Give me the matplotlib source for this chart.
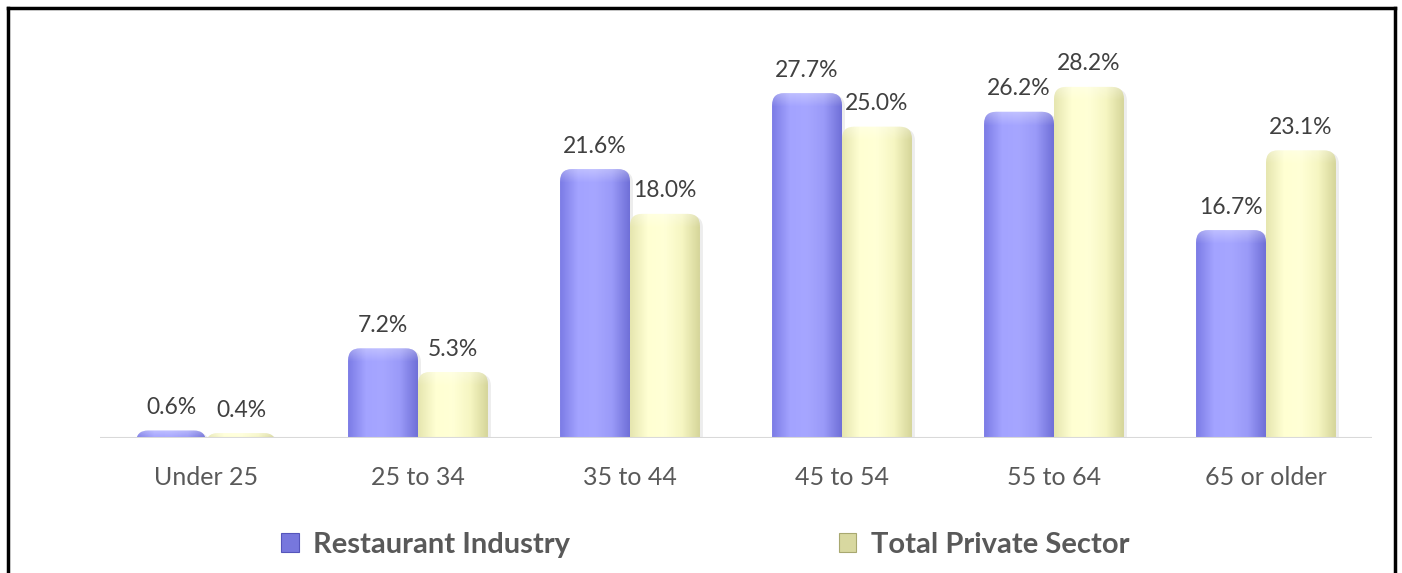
import matplotlib.pyplot as plt
import numpy as np
from matplotlib.patches import FancyBboxPatch, Patch
from matplotlib.lines import Line2D
from matplotlib.colors import LinearSegmentedColormap

# data
groups = ['Under 25', '25 to 34', '35 to 44', '45 to 54', '55 to 64', '65 or older']
restaurant = [0.6, 7.2, 21.6, 27.7, 26.2, 16.7]
private = [0.4, 5.3, 18.0, 25.0, 28.2, 23.1]
series_names = ['Restaurant Industry', 'Total Private Sector']

W, H = 1402, 573
fig = plt.figure(figsize=(W / 100, H / 100), dpi=100)
plt.rcParams['font.family'] = ['Lato', 'DejaVu Sans']

# axes placed in pixel terms
x0, x1 = 100, 1372
ybase, ytop = 438, 438 - 30 * 12.45
ax = fig.add_axes([x0 / W, (H - ybase) / H, (x1 - x0) / W, (ybase - ytop) / H])
ax.set_xlim(-0.5, len(groups) - 0.5)
ax.set_ylim(0, 30)
for s in ax.spines.values():
    s.set_visible(False)
ax.set_yticks([])
ax.set_xticks(range(len(groups)))
ax.set_xticklabels(groups, fontsize=18, color='#595959')
ax.tick_params(axis='x', length=0, pad=20)
ax.axhline(0, color='#d9d9d9', lw=1.5, zorder=5)

x = np.arange(len(groups))
bw = 0.33
bars1 = ax.bar(x - bw / 2, restaurant, bw, color='#9999ff', zorder=1)
bars2 = ax.bar(x + bw / 2, private, bw, color='#ffffcc', zorder=1)

# pixel -> data conversion to keep corners round
px_x = 6 / (x1 - x0)        # data per pixel horizontally
px_y = 30 / (ybase - ytop)  # data per pixel vertically
aspect = px_y / px_x

cmaps = {
    'r': LinearSegmentedColormap.from_list('r', ['#7c7ce6', '#a3a3ff', '#a6a6ff', '#9a9af8', '#7070d8']),
    'p': LinearSegmentedColormap.from_list('p', ['#e6e6b0', '#ffffd2', '#ffffd6', '#f6f6c2', '#d6d69a']),
}
hl_cmap = LinearSegmentedColormap.from_list('h', [(1, 1, 1, 0), (1, 1, 1, 0.3)])
grad = np.linspace(0, 1, 64).reshape(1, -1)

for bars, key in [(bars1, 'r'), (bars2, 'p')]:
    for b in bars:
        bx, bh, bwid = b.get_x(), b.get_height(), b.get_width()
        b.set_visible(False)
        r = 12 * px_x
        # soft shadow
        sh = FancyBboxPatch((bx + 3 * px_x, -2), bwid, bh + 2 - 2 * px_y,
                            boxstyle=f'round,pad=0,rounding_size={r}',
                            mutation_aspect=aspect, fc='#000000', ec='none',
                            alpha=0.07, zorder=1)
        ax.add_patch(sh)
        p = FancyBboxPatch((bx, -2), bwid, bh + 2,
                           boxstyle=f'round,pad=0,rounding_size={r}',
                           mutation_aspect=aspect, fc='none', ec='none', zorder=2)
        ax.add_patch(p)
        im = ax.imshow(grad, cmap=cmaps[key], aspect='auto',
                       extent=(bx, bx + bwid, 0, bh), zorder=2, interpolation='bilinear')
        im.set_clip_path(p)
        # top highlight fading downward
        hl = ax.imshow(np.linspace(0, 1, 32).reshape(-1, 1), cmap=hl_cmap, aspect='auto',
                       origin='lower', extent=(bx, bx + bwid, max(bh - 14 * px_y, 0), bh),
                       zorder=3, interpolation='bilinear')
        hl.set_clip_path(p)

ax.set_xlim(-0.5, len(groups) - 0.5)
ax.set_ylim(0, 30)

for xs, vals in [(x - bw / 2, restaurant), (x + bw / 2, private)]:
    for xi, v in zip(xs, vals):
        ax.annotate(f'{v:.1f}%', (xi, v), xytext=(0, 9), textcoords='offset points',
                    ha='center', va='bottom', fontsize=16.5, color='#404040')

handles = [Patch(fc='#7777dd', ec='#5555bb', lw=0.8), Patch(fc='#d8d8a0', ec='#a8a870', lw=0.8)]
leg = fig.legend(handles, series_names, loc='center', bbox_to_anchor=(0.503, (H - 545) / H),
                 ncol=2, frameon=False, handlelength=0.6, handleheight=0.6,
                 handletextpad=0.5, columnspacing=9.2,
                 prop={'family': 'Lato', 'weight': 'bold', 'size': 21})
for t in leg.get_texts():
    t.set_color('#595959')

# outer frame
fig.add_artist(Line2D([8 / W, 8 / W], [1 - 8 / H, 0], color='black', lw=2.5,
                      transform=fig.transFigure))
fig.add_artist(Line2D([8 / W, 1395 / W], [1 - 8 / H, 1 - 8 / H], color='black', lw=2.5,
                      transform=fig.transFigure))
fig.add_artist(Line2D([1395 / W, 1395 / W], [1 - 8 / H, 0], color='black', lw=2.5,
                      transform=fig.transFigure))

fig.savefig('out.png', dpi=100)
